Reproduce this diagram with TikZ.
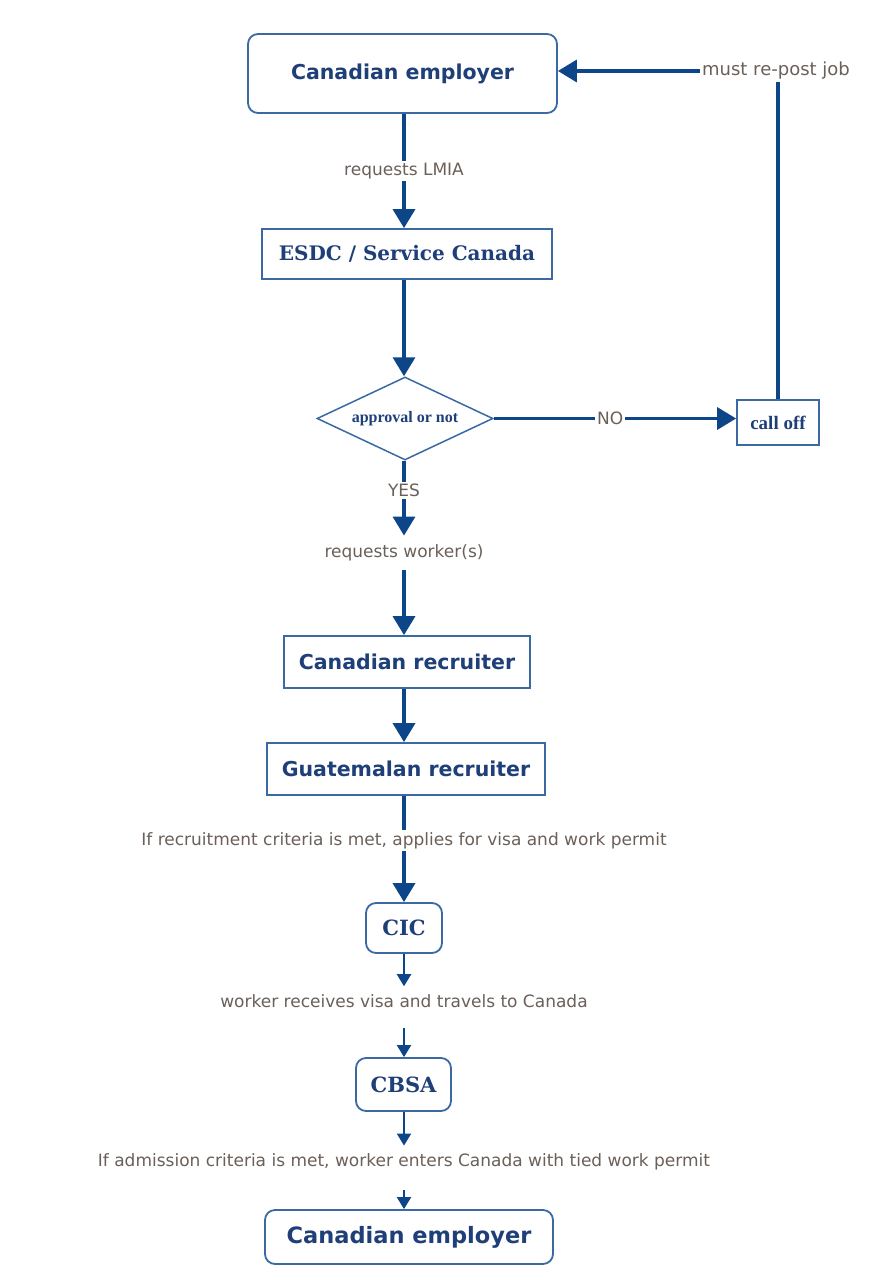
\documentclass[tikz,border=0pt]{standalone}
\usepackage{fontspec}
\setmainfont{DejaVu Sans}
\newfontfamily\slabfont{DejaVu Serif}
\newfontfamily\timesfont{Liberation Serif}
\usetikzlibrary{arrows.meta, positioning, shapes.geometric}
\definecolor{fNavy}{HTML}{1F3F78}
\definecolor{fLine}{HTML}{0D4589}
\definecolor{fEdge}{HTML}{3A69A3}
\definecolor{fNote}{HTML}{6B6059}

\begin{document}
\begin{tikzpicture}[x=1pt, y=-1pt,
  box/.style={draw=fEdge, line width=1.8pt, fill=white, inner sep=0pt,
              align=center, text=fNavy},
  rbox/.style={box, rounded corners=10pt},
  choice/.style={diamond, draw=fEdge, line width=1.5pt, fill=white, inner sep=0pt,
                 shape aspect=2.12, minimum width=176pt, minimum height=83pt, text=fNavy,
                 font=\timesfont\bfseries\fontsize{16}{18}\selectfont},
  note/.style={fill=white, text=fNote, inner sep=2pt, font=\fontsize{17}{20}\selectfont},
  arr/.style={-{Triangle[length=19pt, width=22pt]}, line width=3.5pt, draw=fLine},
  thin/.style={-{Triangle[length=12pt, width=14pt]}, line width=2pt, draw=fLine}]
  \useasboundingbox[fill=white] (0,0) rectangle (882,1276);
  % top: employer asks for an LMIA
  \node[rbox, minimum width=309pt, minimum height=79pt,
        font=\bfseries\fontsize{20.5}{24}\selectfont] (emp) at (402.5,73.5) {Canadian employer};
  \node[box, minimum width=290pt, minimum height=50pt,
        font=\slabfont\bfseries\fontsize{20}{24}\selectfont] (esdc) at (407,254) {ESDC / Service Canada};
  \node[choice] (dec) at (405,418.5) {approval or not};
  \node[box, minimum width=82pt, minimum height=45pt,
        font=\timesfont\bfseries\fontsize{19}{22}\selectfont] (off) at (778,422.5) {call off};
  \node[note, font=\fontsize{18}{21}\selectfont] (repost) at (776,71) {must re-post job};
  % middle: recruiters
  \node[note, inner ysep=9pt] (reqw) at (404,553) {requests worker(s)};
  \node[box, minimum width=246pt, minimum height=52pt,
        font=\bfseries\fontsize{20.5}{24}\selectfont] (canrec) at (407,662) {Canadian recruiter};
  \node[box, minimum width=278pt, minimum height=52pt,
        font=\bfseries\fontsize{20.5}{24}\selectfont] (guarec) at (406,769) {Guatemalan recruiter};
  % bottom: permits and entry
  \node[rbox, minimum width=76pt, minimum height=50pt,
        font=\slabfont\bfseries\fontsize{21}{24}\selectfont] (cic) at (404,928) {CIC};
  \node[note, inner ysep=8pt] (visa) at (404,1001) {worker receives visa and travels to Canada};
  \node[rbox, minimum width=95pt, minimum height=53pt,
        font=\slabfont\bfseries\fontsize{21}{24}\selectfont] (cbsa) at (403.5,1084.5) {CBSA};
  \node[note, inner ysep=8pt] (adm) at (404,1162) {If admission criteria is met, worker enters Canada with tied work permit};
  \node[rbox, minimum width=288pt, minimum height=54pt,
        font=\bfseries\fontsize{22.5}{26}\selectfont] (emp2) at (409,1237) {Canadian employer};
  % arrows
  \draw[arr] (emp.south -| reqw.north) -- node[note] {requests LMIA} (esdc.north -| reqw.north);
  \draw[arr] (esdc.south -| reqw.north) -- (dec.north -| reqw.north);
  \draw[arr] (dec.east) -- node[note, pos=0.48] {NO} (dec.east -| off.west);
  \draw[line width=3.5pt, draw=fLine] (off.north) -- (repost.south -| off.north);
  \draw[arr] (repost.west) -- (emp.east |- repost.west);
  \draw[arr] (dec.south -| reqw.north) -- node[note, pos=0.4] {YES} (reqw.north);
  \draw[arr] (reqw.south) -- (canrec.north -| reqw.south);
  \draw[arr] (canrec.south -| reqw.south) -- (guarec.north -| reqw.south);
  \draw[arr] (guarec.south -| cic.north) -- node[note, pos=0.42]
    {If recruitment criteria is met, applies for visa and work permit} (cic.north);
  \draw[thin] (cic.south) -- (visa.north);
  \draw[thin, shorten <=12pt] (visa.south) -- (cbsa.north -| visa.south);
  \draw[thin] (cbsa.south -| adm.north) -- (adm.north);
  \draw[thin, shorten <=12pt] (adm.south) -- (emp2.north -| adm.south);
\end{tikzpicture}
\end{document}
